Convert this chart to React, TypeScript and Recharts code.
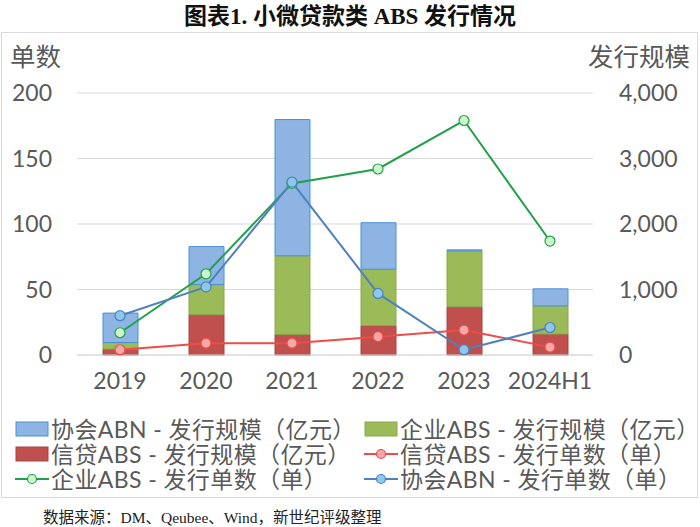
import React from "react";
import { ComposedChart, Bar, Line, XAxis, YAxis, CartesianGrid } from "recharts";

const categories = ["2019", "2020", "2021", "2022", "2023", "2024H1"];
const xindaiScale = [90, 615, 315, 450, 735, 320];
const qiyeScale = [100, 460, 1200, 860, 855, 430];
const xiehuiScale = [450, 580, 2080, 710, 15, 260];
const xindaiCount = [4, 9, 9, 14, 19, 6];
const qiyeCount = [17, 62, 131, 142, 179, 87];
const xiehuiCount = [30, 52, 132, 47, 4, 21];
const leftTicks = [0, 50, 100, 150, 200];
const rightTicks = [0, 1000, 2000, 3000, 4000];

const data = categories.map((c, i) => ({
  name: c,
  xindaiScale: xindaiScale[i],
  qiyeScale: qiyeScale[i],
  xiehuiScale: xiehuiScale[i],
  xindaiCount: xindaiCount[i],
  qiyeCount: qiyeCount[i],
  xiehuiCount: xiehuiCount[i],
}));

const FONT = "Lato, 'Noto Sans CJK SC', sans-serif";
const TXT = "#595959";

const C = {
  blueFill: "#8DB4E2",
  blueStroke: "#4A90D9",
  greenFill: "#9BBB59",
  greenStroke: "#8AA84E",
  redFill: "#C0504D",
  redStroke: "#A94440",
  lineGreen: "#22A04B",
  lineGreenDot: "#CCF5CC",
  lineBlue: "#4F81BD",
  lineBlueDot: "#8CC8EA",
  lineRed: "#F04B4B",
  lineRedDot: "#F4A8A8",
};

const fmt = (v: number) => v.toLocaleString("en-US");

function RectIcon({ fill, stroke }: { fill: string; stroke: string }) {
  return (
    <svg width={34} height={18} style={{ display: "block" }}>
      <rect x={1} y={2} width={32} height={14} fill={fill} stroke={stroke} strokeWidth={1} />
    </svg>
  );
}
function LineIcon({ stroke, dot }: { stroke: string; dot: string }) {
  return (
    <svg width={34} height={18} style={{ display: "block" }}>
      <line x1={0} y1={9} x2={34} y2={9} stroke={stroke} strokeWidth={2} />
      <circle cx={17} cy={9} r={4.5} fill={dot} stroke={stroke} strokeWidth={1.2} />
    </svg>
  );
}

const legendItems = [
  { label: "协会ABN - 发行规模（亿元）", icon: <RectIcon fill={C.blueFill} stroke={C.blueStroke} />, x: 15, y: 417 },
  { label: "企业ABS - 发行规模（亿元）", icon: <RectIcon fill={C.greenFill} stroke={C.greenStroke} />, x: 364, y: 417 },
  { label: "信贷ABS - 发行规模（亿元）", icon: <RectIcon fill={C.redFill} stroke={C.redStroke} />, x: 15, y: 442 },
  { label: "信贷ABS - 发行单数（单）", icon: <LineIcon stroke={C.lineRed} dot={C.lineRedDot} />, x: 364, y: 442 },
  { label: "企业ABS - 发行单数（单）", icon: <LineIcon stroke={C.lineGreen} dot={C.lineGreenDot} />, x: 15, y: 467 },
  { label: "协会ABN - 发行单数（单）", icon: <LineIcon stroke={C.lineBlue} dot={C.lineBlueDot} />, x: 364, y: 467 },
];

export default function App() {
  const dotProps = (stroke: string, fill: string) => ({ r: 5, fill, stroke, strokeWidth: 1.2 });
  return (
    <div style={{ position: "absolute", left: 0, top: 0, width: 700, height: 527, background: "#fff", fontFamily: FONT, overflow: "hidden" }}>
      <div style={{ position: "absolute", top: 4, left: 0, width: 700, lineHeight: "26px", textAlign: "center", fontFamily: "'Liberation Serif', 'Noto Sans CJK SC', serif", fontWeight: "bold", fontSize: 23, color: "#111" }}>
        图表1. 小微贷款类 ABS 发行情况
      </div>
      <div style={{ position: "absolute", top: 32, left: 1, width: 695, height: 464, border: "1.5px solid #D9D9D9" }} />
      <div style={{ position: "absolute", top: 42, left: 10, fontSize: 25.5, lineHeight: "28px", color: TXT }}>单数</div>
      <div style={{ position: "absolute", top: 42, right: 10, fontSize: 25.5, lineHeight: "28px", color: TXT }}>发行规模</div>
      <div style={{ position: "absolute", top: 0, left: 0 }}>
        <ComposedChart width={700} height={400} data={data} margin={{ top: 93, right: 20, bottom: 0, left: 0 }}>
          <CartesianGrid vertical={false} stroke="#D9D9D9" strokeWidth={1.2} yAxisId="left" />
          <XAxis
            dataKey="name"
            axisLine={{ stroke: "#D9D9D9", strokeWidth: 1.2 }}
            tickLine={false}
            tickSize={0}
            tickMargin={18}
            height={45}
            tick={{ fill: TXT, fontSize: 23, fontFamily: FONT }}
          />
          <YAxis
            yAxisId="left"
            orientation="left"
            width={77}
            domain={[0, 200]}
            ticks={leftTicks}
            axisLine={false}
            tickLine={false}
            tickSize={0}
            tickMargin={25}
            tick={{ fill: TXT, fontSize: 23, fontFamily: FONT }}
          />
          <YAxis
            yAxisId="right"
            orientation="right"
            width={87}
            domain={[0, 4000]}
            ticks={rightTicks}
            tickFormatter={fmt}
            axisLine={false}
            tickLine={false}
            tickSize={0}
            tickMargin={26}
            tick={{ fill: TXT, fontSize: 23, fontFamily: FONT, textAnchor: "start" }}
          />
          <Bar yAxisId="right" dataKey="xindaiScale" stackId="s" barSize={35} fill={C.redFill} stroke={C.redStroke} strokeWidth={1} isAnimationActive={false} />
          <Bar yAxisId="right" dataKey="qiyeScale" stackId="s" barSize={35} fill={C.greenFill} stroke={C.greenStroke} strokeWidth={1} isAnimationActive={false} />
          <Bar yAxisId="right" dataKey="xiehuiScale" stackId="s" barSize={35} fill={C.blueFill} stroke={C.blueStroke} strokeWidth={1} isAnimationActive={false} />
          <Line yAxisId="left" dataKey="xindaiCount" stroke={C.lineRed} strokeWidth={2} dot={dotProps(C.lineRed, C.lineRedDot)} isAnimationActive={false} />
          <Line yAxisId="left" dataKey="qiyeCount" stroke={C.lineGreen} strokeWidth={2} dot={dotProps(C.lineGreen, C.lineGreenDot)} isAnimationActive={false} />
          <Line yAxisId="left" dataKey="xiehuiCount" stroke={C.lineBlue} strokeWidth={2} dot={dotProps(C.lineBlue, C.lineBlueDot)} isAnimationActive={false} />
        </ComposedChart>
      </div>
      {legendItems.map((it, i) => (
        <div key={i} style={{ position: "absolute", left: it.x, top: it.y, height: 24, lineHeight: "24px", display: "flex", alignItems: "center", fontSize: 23, letterSpacing: 0.4, color: TXT, whiteSpace: "nowrap" }}>
          {it.icon}
          <span style={{ marginLeft: 2, lineHeight: "24px" }}>{it.label}</span>
        </div>
      ))}
      <div style={{ position: "absolute", left: 43, top: 509, lineHeight: "17px", fontSize: 15.5, fontFamily: "'Liberation Serif', 'Noto Sans CJK SC', serif", color: "#222", whiteSpace: "nowrap" }}>
        数据来源：DM、Qeubee、Wind，新世纪评级整理
      </div>
    </div>
  );
}
